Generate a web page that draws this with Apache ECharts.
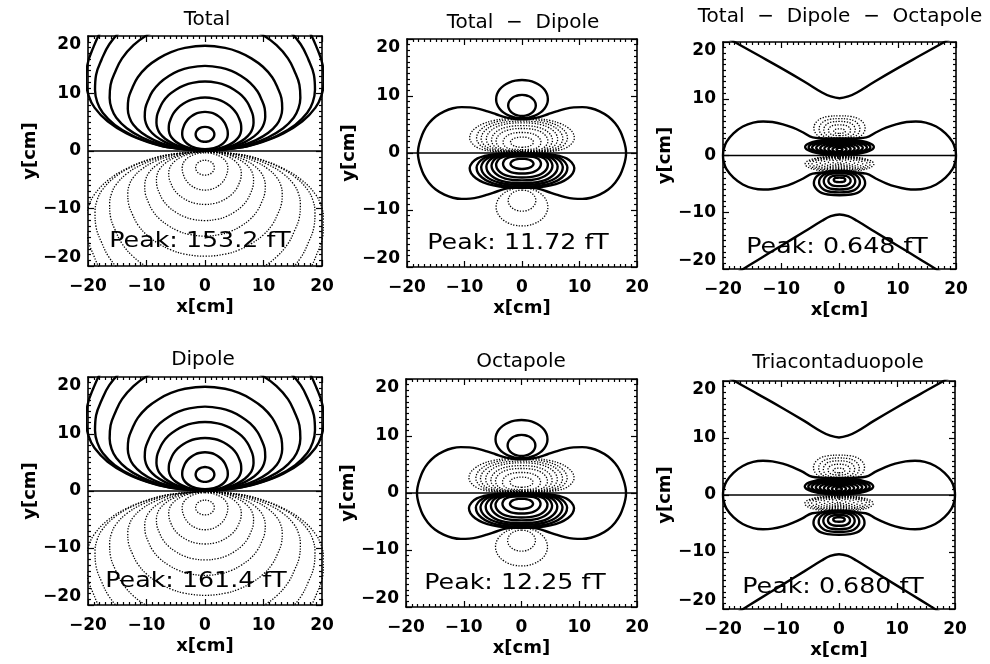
<!DOCTYPE html>
<html>
<head>
<meta charset="utf-8">
<title>Field maps</title>
<script src="https://cdn.jsdelivr.net/npm/echarts@6/dist/echarts.min.js"></script>
<style>
  html, body { margin: 0; padding: 0; background: #fff; }
  #chart { width: 990px; height: 664px; }
</style>
</head>
<body>
<div id="chart"></div>
<script>
var tickValues = [-20, -10, 0, 10, 20];

var panelTitles = ['Total', 'Total  \u2212  Dipole', 'Total  \u2212  Dipole  \u2212  Octapole',
                   'Dipole', 'Octapole', 'Triacontaduopole'];
var peakValues = ['153.2', '11.72', '0.648', '161.4', '12.25', '0.680'];
var panelKinds = ['dipole', 'octapole', 'triaconta', 'dipole', 'octapole', 'triaconta'];

// contour loops: [half width, lowest y, highest y] in cm
var dipoleLoops = [
  [1.6, 1.6, 4.2], [3.9, 0.3, 6.8], [6.2, 0.15, 9.3], [8.3, 0.1, 12.1], [10.3, 0.08, 14.8],
  [13.2, 0.06, 18.3], [16.3, 0.05, 23.0], [18.8, 0.05, 26.5], [20.3, 0.05, 30.0]
];
var octCapLoops = [[4.5, 6.1, 12.8], [2.4, 6.5, 10.2]];
var octBowls = [
  [2.0, 1.0, 2.8], [3.3, 0.6, 3.6], [4.5, 0.4, 4.3], [5.3, 0.3, 4.8],
  [6.2, 0.25, 5.3], [7.1, 0.2, 5.6], [7.9, 0.15, 5.9], [9.1, 0.1, 6.1]
];
// one quadrant of the outer loop, from the y axis round to the x axis
var octOuterLoop = [[0, 5.9], [1.5, 6.0], [3, 6.3], [4.5, 6.8], [6, 7.3], [7.5, 7.75], [9, 8.0], [10.5, 8.05],
                    [12, 7.85], [13.5, 7.3], [15, 6.4], [16.2, 5.2], [17.1, 3.8], [17.7, 2.2], [18.0, 1.0], [18.1, 0]];

var triCapLoops = [[1.0, 3.9, 4.7], [1.9, 3.5, 5.4], [2.7, 3.1, 6.0], [3.5, 2.9, 6.5], [4.4, 2.7, 7.0]];
var triBandLoops = [
  [0.5, 0.75, 1.35], [1.2, 0.55, 1.6], [1.9, 0.45, 1.85], [2.6, 0.35, 2.05], [3.3, 0.3, 2.25],
  [4.0, 0.25, 2.45], [4.7, 0.2, 2.6], [5.3, 0.15, 2.75], [5.9, 0.1, 2.9]
];
var triOuterLoop = [[0, 3.0], [2, 3.0], [4.6, 3.2], [6.3, 4.1], [8, 4.9], [9.7, 5.5], [11.5, 5.9], [13.1, 6.0],
                    [14.8, 5.8], [16.6, 5.1], [18.2, 3.9], [19.4, 2.4], [19.9, 1.0], [20.0, 0]];
var triUpperCurve = [[0, 10.1], [1.5, 10.4], [3, 11.1], [6, 13.0], [10, 15.4], [14, 17.7], [18, 20.0], [21, 21.8]];
var triLowerCurve = [[0, -10.4], [1.5, -10.7], [3, -11.5], [6, -13.4], [10, -15.9], [14, -18.4], [17, -20.3], [20, -22.2]];

// loop outlines as fractions of (half width, height), bottom to top along the right side
var ellipseProfile = [[0, 0], [0.259, 0.017], [0.5, 0.067], [0.707, 0.146], [0.866, 0.25], [0.966, 0.371], [1, 0.5],
                      [0.966, 0.629], [0.866, 0.75], [0.707, 0.854], [0.5, 0.933], [0.259, 0.983], [0, 1]];
var dipoleProfile = [[0, 0], [0.31, 0.02], [0.48, 0.05], [0.66, 0.1], [0.82, 0.17], [0.93, 0.25], [0.98, 0.32], [1, 0.4],
                     [0.99, 0.5], [0.94, 0.6], [0.87, 0.7], [0.75, 0.8], [0.6, 0.88], [0.44, 0.94], [0.26, 0.98], [0, 1]];
var bowlProfile = [[0, 0], [0.3, 0.005], [0.55, 0.025], [0.72, 0.07], [0.85, 0.14], [0.95, 0.26], [1, 0.42],
                   [0.97, 0.58], [0.88, 0.72], [0.74, 0.84], [0.55, 0.93], [0.3, 0.985], [0, 1]];
var capProfile = [[0, 0], [0.3, 0.01], [0.55, 0.05], [0.75, 0.12], [0.9, 0.24], [0.98, 0.38], [1, 0.52],
                  [0.96, 0.66], [0.86, 0.79], [0.7, 0.9], [0.45, 0.97], [0, 1]];

var gridBoxes = [[88, 36, 234, 230], [407, 39, 230, 228], [723, 42, 233, 227],
                 [88, 377, 234, 228], [406, 379, 231, 228], [723, 381, 232, 228]];
var titlePos = [[207, 20], [523, 23], [840, 17], [203, 360], [521, 362], [838, 363]];
var peakPos = [[200, 241], [518, 243], [837, 247], [196, 581], [515, 583], [833, 587]];

var FONT = '"DejaVu Sans", sans-serif';

function loopPoints(profile, c) {
  var w = c[0], lo = c[1], hi = c[2];
  var right = profile.map(function (p) { return [p[0] * w, lo + p[1] * (hi - lo)]; });
  var left = profile.slice().reverse().slice(1).map(function (p) { return [-p[0] * w, lo + p[1] * (hi - lo)]; });
  return right.concat(left);
}
function flipY(pts) { return pts.map(function (p) { return [p[0], -p[1]]; }); }
function quadLoop(q) {
  var a = q;
  var b = q.slice().reverse().slice(1).map(function (p) { return [p[0], -p[1]]; });
  var c = q.slice(1).map(function (p) { return [-p[0], -p[1]]; });
  var d = q.slice().reverse().slice(1).map(function (p) { return [-p[0], p[1]]; });
  return a.concat(b, c, d);
}
function mirrorCurve(c) {
  return c.slice().reverse().map(function (p) { return [-p[0], p[1]]; }).concat(c.slice(1));
}

var series = [];
function addLine(panel, pts, dotted, width) {
  series.push({
    type: 'line', xAxisIndex: panel * 2, yAxisIndex: panel * 2,
    data: pts, symbol: 'none', smooth: 0.4, silent: true, animation: false,
    lineStyle: dotted ? { color: '#000', width: 1.3, type: [1.3, 1.5] } : { color: '#000', width: width || 2.4 }
  });
}

var zeroLine = [[tickValues[0], 0], [tickValues[tickValues.length - 1], 0]];

function drawDipole(p) {
  dipoleLoops.forEach(function (c, i) {
    var pts = loopPoints(i === 0 ? ellipseProfile : dipoleProfile, c);
    addLine(p, pts, false);
    addLine(p, flipY(pts), true);
  });
}
function drawOctapole(p) {
  addLine(p, quadLoop(octOuterLoop), false);
  octCapLoops.forEach(function (c) {
    var pts = loopPoints(ellipseProfile, c);
    addLine(p, pts, false);
    addLine(p, flipY(pts), true);
  });
  octBowls.forEach(function (c, i) {
    var pts = loopPoints(i === 0 ? ellipseProfile : bowlProfile, c);
    addLine(p, pts, true);
    addLine(p, flipY(pts), false);
  });
}
function drawTriaconta(p) {
  addLine(p, mirrorCurve(triUpperCurve), false);
  addLine(p, mirrorCurve(triLowerCurve), false);
  addLine(p, quadLoop(triOuterLoop), false);
  triCapLoops.forEach(function (c) {
    var pts = loopPoints(capProfile, c);
    addLine(p, pts, true);
    addLine(p, flipY(pts), false);
  });
  triBandLoops.forEach(function (c) {
    var pts = loopPoints(ellipseProfile, c);
    addLine(p, pts, false);
    addLine(p, flipY(pts), true);
  });
}

function fmt(v) { return v < 0 ? '\u2212' + Math.abs(v) : String(v); }

function makeAxis(dim, i, pos, main) {
  var ax = {
    gridIndex: i, type: 'value', position: pos,
    min: tickValues[0], max: tickValues[tickValues.length - 1], interval: tickValues[1] - tickValues[0],
    axisLine: { show: true, onZero: false, lineStyle: { color: '#000', width: 1.6 } },
    axisTick: { show: true, inside: true, length: 6, lineStyle: { color: '#000', width: 1.2 } },
    minorTick: { show: true, splitNumber: 10, length: 3, lineStyle: { color: '#000', width: 1.2 } },
    splitLine: { show: false },
    axisLabel: { show: main, color: '#000', fontFamily: FONT, fontWeight: 'bold', fontSize: 17, formatter: fmt },
    silent: true
  };
  if (main) {
    ax.name = dim === 'x' ? 'x[cm]' : 'y[cm]';
    ax.nameLocation = 'middle';
    ax.nameTextStyle = { color: '#000', fontFamily: FONT, fontWeight: 'bold', fontSize: 18 };
    if (dim === 'x') {
      ax.nameGap = 32;
      ax.axisLabel.margin = 12;
    } else {
      ax.nameGap = 48;
      ax.axisLabel.margin = 7;
      ax.axisLabel.verticalAlignMaxLabel = 'top';
      ax.axisLabel.verticalAlignMinLabel = 'bottom';
    }
  }
  return ax;
}

var grids = [], xAxes = [], yAxes = [], titles = [], graphics = [];
gridBoxes.forEach(function (b, i) {
  grids.push({ left: b[0], top: b[1], width: b[2], height: b[3], containLabel: false });
  xAxes.push(makeAxis('x', i, 'bottom', true));
  xAxes.push(makeAxis('x', i, 'top', false));
  yAxes.push(makeAxis('y', i, 'left', true));
  yAxes.push(makeAxis('y', i, 'right', false));

  if (panelKinds[i] === 'dipole') drawDipole(i);
  else if (panelKinds[i] === 'octapole') drawOctapole(i);
  else drawTriaconta(i);
  addLine(i, zeroLine, false, 1.6);

  titles.push({
    text: panelTitles[i], left: titlePos[i][0], top: titlePos[i][1], padding: 0,
    textAlign: 'center', textVerticalAlign: 'middle',
    textStyle: { color: '#000', fontFamily: FONT, fontWeight: 'normal', fontSize: 20 }
  });
  graphics.push({
    type: 'text', x: peakPos[i][0], y: peakPos[i][1], scaleX: 1.15, z: 100, silent: true,
    style: {
      text: 'Peak: ' + peakValues[i] + ' fT', fill: '#000',
      font: '22px ' + FONT, align: 'center', verticalAlign: 'middle',
      textAlign: 'center', textVerticalAlign: 'middle'
    }
  });
});

var myChart = echarts.init(document.getElementById('chart'), null, { renderer: 'canvas' });
myChart.setOption({
  backgroundColor: '#fff',
  animation: false,
  title: titles,
  grid: grids,
  xAxis: xAxes,
  yAxis: yAxes,
  graphic: graphics,
  series: series
});
</script>
</body>
</html>
